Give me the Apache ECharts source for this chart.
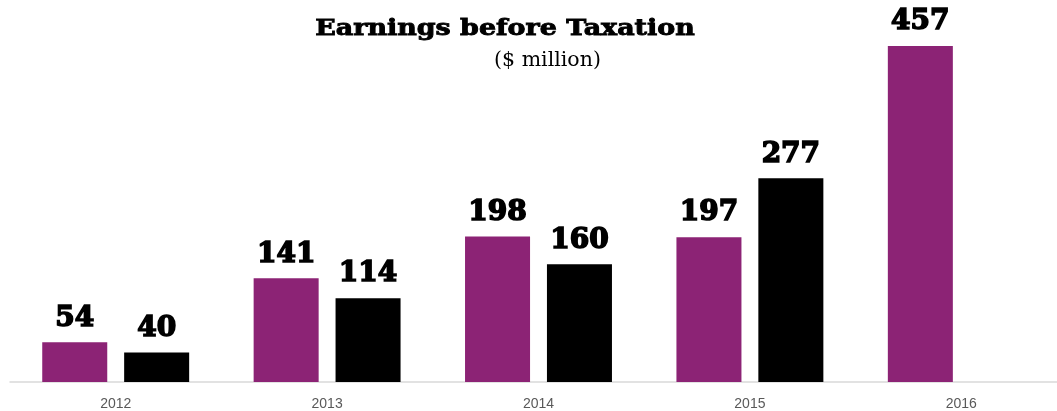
<!DOCTYPE html>
<html>
<head>
<meta charset="utf-8">
<script src="https://cdn.jsdelivr.net/npm/echarts@6/dist/echarts.min.js"></script>
<style>
  html, body { margin: 0; padding: 0; background: #fff; overflow: hidden; width: 1057px; height: 411px; }
  /* canvas is a little wider than the page so the last category band runs past the edge */
  #chart { width: 1067px; height: 411px; }
</style>
</head>
<body>
<div id="chart"></div>
<script>
// Earnings before taxation, $ million
const years = ['2012', '2013', '2014', '2015', '2016'];
const seriesA = [54, 141, 198, 197, 457];
const seriesB = [40, 114, 160, 277, null];

const PURPLE = '#8C2375';
const BLACK = '#000000';

// heavy slab-serif value labels above each bar
const labelStyle = {
  show: true,
  position: 'top',
  distance: 10,
  fontFamily: 'DejaVu Serif',
  fontWeight: 'bold',
  fontSize: 28,
  color: '#000',
  textBorderColor: '#000',
  textBorderWidth: 1.6
};

const chart = echarts.init(document.getElementById('chart'), null, { renderer: 'canvas' });
chart.setOption({
  animation: false,
  graphic: [
    {
      type: 'text',
      x: 505,
      y: 29,
      scaleX: 1.17,
      style: {
        text: 'Earnings before Taxation',
        textAlign: 'center',
        textVerticalAlign: 'middle',
        fontFamily: 'DejaVu Serif',
        fontWeight: 'bold',
        fontSize: 23,
        fill: '#000',
        stroke: '#000',
        lineWidth: 0.9
      }
    },
    {
      type: 'text',
      x: 547.5,
      y: 61,
      style: {
        text: '($ million)',
        textAlign: 'center',
        textVerticalAlign: 'middle',
        fontFamily: 'DejaVu Serif',
        fontWeight: 'normal',
        fontSize: 20.5,
        fill: '#000'
      }
    }
  ],
  grid: { left: 10, right: -0.5, top: 14.4, bottom: 29, containLabel: false },
  xAxis: {
    type: 'category',
    data: years,
    axisLine: { lineStyle: { color: '#d9d9d9', width: 1.5 } },
    axisTick: { show: false },
    axisLabel: {
      color: '#595959', fontSize: 14,
      fontFamily: '"Liberation Sans Narrow", "Liberation Sans", sans-serif',
      margin: 15
    }
  },
  yAxis: {
    type: 'value',
    min: 0,
    max: 500,
    show: false,
    splitLine: { show: false }
  },
  series: [
    {
      type: 'bar',
      data: seriesA,
      itemStyle: { color: PURPLE },
      barGap: '26%',
      barCategoryGap: '30.5%',
      label: labelStyle
    },
    {
      type: 'bar',
      data: seriesB,
      itemStyle: { color: BLACK },
      label: labelStyle
    }
  ]
});
</script>
</body>
</html>
